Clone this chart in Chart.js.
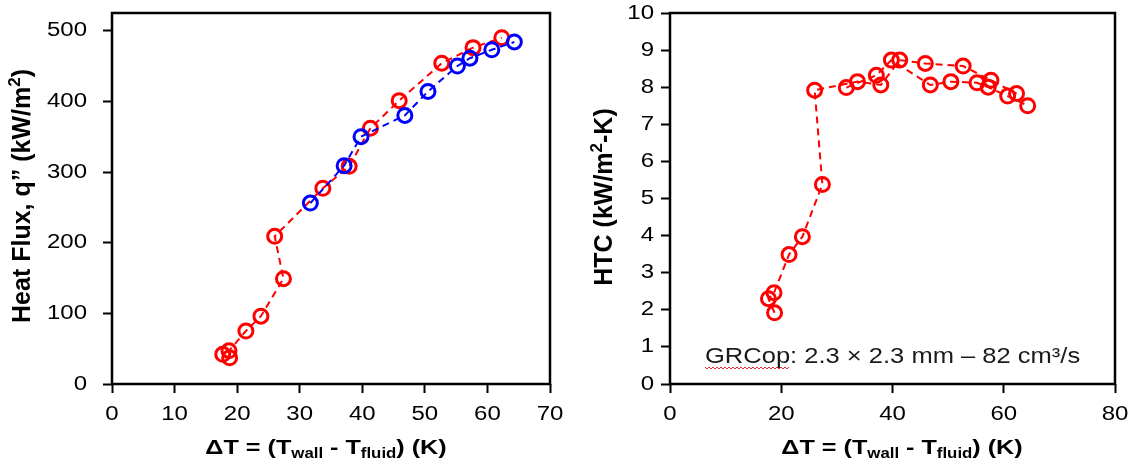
<!DOCTYPE html>
<html>
<head>
<meta charset="utf-8">
<script src="https://cdn.jsdelivr.net/npm/chart.js@4.4.1/dist/chart.umd.min.js"></script>
<style>
  body { margin: 0; background: #fff; }
  #wrap { position: relative; width: 1135px; height: 465px; }
  .panel { position: absolute; top: 0; height: 465px; }
</style>
</head>
<body>
<div id="wrap">
  <div class="panel" style="left:0;width:570px"><canvas id="fluxChart"></canvas></div>
  <div class="panel" style="left:570px;width:565px"><canvas id="htcChart"></canvas></div>
</div>
<script>
// run 1 (red) and run 2 (blue): wall superheat vs heat flux
const redDeltaT = [18.8, 17.7, 18.7, 21.4, 23.8, 27.4, 26.0, 33.7, 37.9, 41.3, 45.9, 52.7, 57.7, 62.3];
const redFlux = [37, 42, 47, 75, 96, 149, 209, 277, 308, 362, 401, 454, 476, 490];
const blueDeltaT = [31.7, 37.1, 39.8, 46.8, 50.5, 55.2, 57.2, 60.7, 64.3];
const blueFlux = [256, 309, 350, 380, 414, 450, 461, 473, 484];

// heat transfer coefficient for the same points (right panel, all red)
const redHtc = [1.92, 2.30, 2.46, 3.49, 3.97, 5.38, 7.92, 8.15, 8.06, 8.73, 8.64, 8.57, 8.19, 7.83];
const blueHtc = [7.99, 8.32, 8.73, 8.06, 8.15, 8.12, 8.00, 7.76, 7.50];

// tick labels
const fluxTicks = [0, 100, 200, 300, 400, 500];
const fluxDtTicks = [0, 10, 20, 30, 40, 50, 60, 70];
const htcTicks = [0, 1, 2, 3, 4, 5, 6, 7, 8, 9, 10];
const htcDtTicks = [0, 20, 40, 60, 80];

const noteText = "GRCop: 2.3 \u00d7 2.3 mm \u2013 82 cm\u00b3/s";

const RED = "#ff0000";
const BLUE = "#0000ff";
const FONT = '"Liberation Sans", Arial, sans-serif';

function pts(xs, ys) {
  return xs.map(function (x, i) {
    return { x: x, y: ys[i] };
  });
}

function series(xs, ys, color) {
  return {
    data: pts(xs, ys),
    showLine: true,
    borderColor: color,
    borderWidth: 2,
    borderDash: [7, 5],
    pointRadius: 7,
    pointBorderWidth: 3,
    pointBorderColor: color,
    pointBackgroundColor: "rgba(0,0,0,0)",
    backgroundColor: "rgba(0,0,0,0)",
  };
}

// draw text stretched horizontally by sx
function putText(ctx, text, x, y, align, font, sx) {
  ctx.save();
  ctx.font = font;
  ctx.textAlign = align;
  ctx.textBaseline = "middle";
  ctx.translate(x, y);
  ctx.scale(sx, 1);
  ctx.fillText(text, 0, 0);
  ctx.restore();
}

// text with subscript / superscript parts, centred on (cx, cy)
function richText(ctx, parts, cx, cy, angle, size, sx) {
  ctx.save();
  ctx.translate(cx, cy);
  ctx.scale(sx, 1);
  ctx.rotate(angle);
  ctx.textBaseline = "middle";
  ctx.textAlign = "left";
  var big = "bold " + size + "px " + FONT;
  var small = "bold " + Math.round(size * 0.66) + "px " + FONT;
  var total = 0;
  parts.forEach(function (p) {
    ctx.font = p.sub || p.sup ? small : big;
    p.w = ctx.measureText(p.t).width;
    total += p.w;
  });
  var x = -total / 2;
  parts.forEach(function (p) {
    ctx.font = p.sub || p.sup ? small : big;
    var dy = p.sub ? size * 0.3 : p.sup ? -size * 0.3 : 0;
    ctx.fillText(p.t, x, dy);
    x += p.w;
  });
  ctx.restore();
}

const dtTitle = [
  { t: "\u0394T = (T" },
  { t: "wall", sub: true },
  { t: " - T" },
  { t: "fluid", sub: true },
  { t: ") (K)" },
];

function panelPlugin(cfg) {
  return {
    id: "panel",
    beforeDatasetsDraw: function (chart) {
      const a = chart.chartArea;
      const ctx = chart.ctx;
      ctx.save();
      ctx.strokeStyle = "#000";
      ctx.lineWidth = 2.5;
      ctx.strokeRect(a.left, a.top, a.right - a.left, a.bottom - a.top);
      ctx.restore();
    },
    afterDraw: function (chart) {
      const ctx = chart.ctx;
      const xs = chart.scales.x;
      const ys = chart.scales.y;
      const tickFont = "20px " + FONT;
      ctx.save();
      ctx.fillStyle = "#000";
      xs.ticks.forEach(function (t) {
        putText(ctx, String(t.value), xs.getPixelForValue(t.value), 414, "center", tickFont, 1.2);
      });
      ys.ticks.forEach(function (t) {
        putText(ctx, String(t.value), cfg.yTickRight, ys.getPixelForValue(t.value), "right", tickFont, 1.2);
      });
      richText(ctx, dtTitle, cfg.xTitleX, 448, 0, 21, 1.2);
      richText(ctx, cfg.yTitle, cfg.yTitleX, cfg.yTitleY, -Math.PI / 2, 25, 1);
      if (cfg.note) {
        ctx.fillStyle = "#1a1a1a";
        putText(ctx, noteText, 135, 357, "left", "22px " + FONT, 1.16);
        // spell-check squiggle under "GRCop"
        ctx.strokeStyle = "#e03030";
        ctx.lineWidth = 1;
        ctx.beginPath();
        for (var x = 135, k = 0; x <= 220; x += 2, k++) {
          var y = 368 + (k % 2 ? 1 : -1);
          if (k === 0) ctx.moveTo(x, y); else ctx.lineTo(x, y);
        }
        ctx.stroke();
      }
      ctx.restore();
    },
  };
}

function fixedTicks(values) {
  return function (scale) {
    scale.ticks = values.map(function (v) {
      return { value: v };
    });
  };
}

function axis(min, max, ticks, size, isX) {
  return {
    type: "linear",
    position: isX ? "bottom" : "left",
    min: min,
    max: max,
    bounds: "data",
    afterBuildTicks: fixedTicks(ticks),
    afterFit: function (scale) {
      if (isX) scale.height = size;
      else scale.width = size;
    },
    border: { display: false },
    grid: {
      display: true,
      drawOnChartArea: false,
      drawTicks: true,
      tickLength: 9,
      tickWidth: 2,
      tickColor: "#000",
    },
    ticks: { display: false },
  };
}

function makeChart(id, datasets, scales, plugin, padRight) {
  const ctx = document.getElementById(id).getContext("2d");
  return new Chart(ctx, {
    type: "scatter",
    data: { datasets: datasets },
    options: {
      responsive: true,
      maintainAspectRatio: false,
      animation: false,
      layout: { padding: { left: 0, top: 13, right: padRight, bottom: 0 } },
      plugins: { legend: { display: false }, tooltip: { enabled: false } },
      scales: scales,
    },
    plugins: [plugin],
  });
}

makeChart(
  "fluxChart",
  [series(blueDeltaT, blueFlux, BLUE), series(redDeltaT, redFlux, RED)],
  {
    x: axis(0, 70, fluxDtTicks, 81, true),
    y: axis(0, 525, fluxTicks, 112, false),
  },
  panelPlugin({
    yTickRight: 87,
    xTitleX: 326,
    yTitle: [{ t: "Heat Flux, q\u201d (kW/m" }, { t: "2", sup: true }, { t: ")" }],
    yTitleX: 23,
    yTitleY: 196,
  }),
  20
);

makeChart(
  "htcChart",
  [series(redDeltaT, redHtc, RED), series(blueDeltaT, blueHtc, RED)],
  {
    x: axis(0, 80, htcDtTicks, 81, true),
    y: axis(0, 10, htcTicks, 100, false),
  },
  panelPlugin({
    yTickRight: 84,
    xTitleX: 332,
    yTitle: [{ t: "HTC (kW/m" }, { t: "2", sup: true }, { t: "-K)" }],
    yTitleX: 35,
    yTitleY: 197,
    note: true,
  }),
  20
);
</script>
</body>
</html>
